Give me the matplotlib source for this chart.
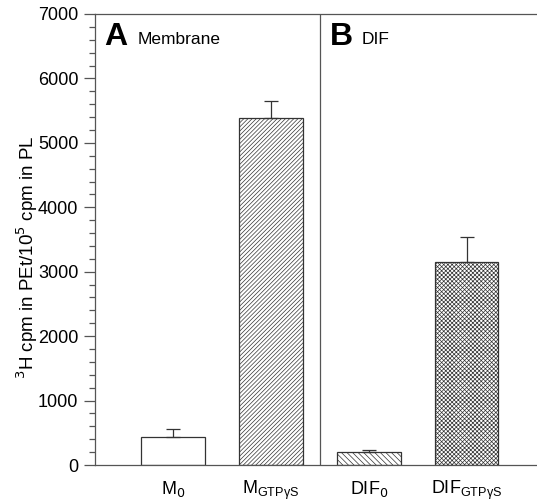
import matplotlib
matplotlib.use("Agg")
import matplotlib.pyplot as plt
from matplotlib.ticker import MultipleLocator

plt.rcParams['font.family'] = ['Liberation Sans', 'DejaVu Sans']
plt.rcParams['hatch.linewidth'] = 0.5
plt.rcParams['hatch.color'] = "#555555"

# Data
categories = ["M$_0$", "M$_{\\mathregular{GTP\\gamma S}}$", "DIF$_0$", "DIF$_{\\mathregular{GTP\\gamma S}}$"]
values = [435, 5390, 200, 3150]
errors = [125, 260, 30, 390]
hatches = ["", "/" * 8, "\\" * 6, "x" * 8]

positions = [1, 2, 3, 4]
edge = "#333333"

fig = plt.figure(figsize=(5.37, 5.03), dpi=100)
ax = fig.add_axes([95 / 537, 38 / 503, 442 / 537, 451 / 503])

for x, v, h in zip(positions, values, hatches):
    ax.bar(x, v, width=0.65, color="white", edgecolor=edge, hatch=h, linewidth=0.9)

ax.errorbar(positions, values, yerr=[[0] * len(values), errors], fmt="none",
            ecolor=edge, elinewidth=0.9, capsize=5, capthick=0.9)

ax.set_xlim(0.2, 4.72)
ax.set_ylim(0, 7000)
ax.yaxis.set_major_locator(MultipleLocator(1000))
ax.yaxis.set_minor_locator(MultipleLocator(200))
ax.tick_params(axis="y", which="major", length=8, width=0.9, color="#555555", labelsize=13, pad=4)
ax.tick_params(axis="y", which="minor", length=4, width=0.9, color="#555555")
ax.set_xticks(positions)
ax.set_xticklabels(categories, fontsize=13)
ax.tick_params(axis="x", length=0, pad=10)

for side in ["left", "top", "bottom"]:
    ax.spines[side].set_color("#555555")
    ax.spines[side].set_linewidth(0.9)
ax.spines["right"].set_visible(False)

ax.axvline(2.5, color="#555555", linewidth=0.9)

ax.set_ylabel("$^3$H cpm in PEt/10$^5$ cpm in PL", fontsize=13.5)
ax.yaxis.set_label_coords(-0.125, 0.46)

ax.text(0.29, 6650, "A", fontsize=23, fontweight="bold", va="center", ha="left")
ax.text(0.64, 6600, "Membrane", fontsize=12.5, va="center", ha="left")
ax.text(2.6, 6650, "B", fontsize=23, fontweight="bold", va="center", ha="left")
ax.text(2.93, 6600, "DIF", fontsize=12.5, va="center", ha="left")

fig.savefig("out.png", dpi=100)
